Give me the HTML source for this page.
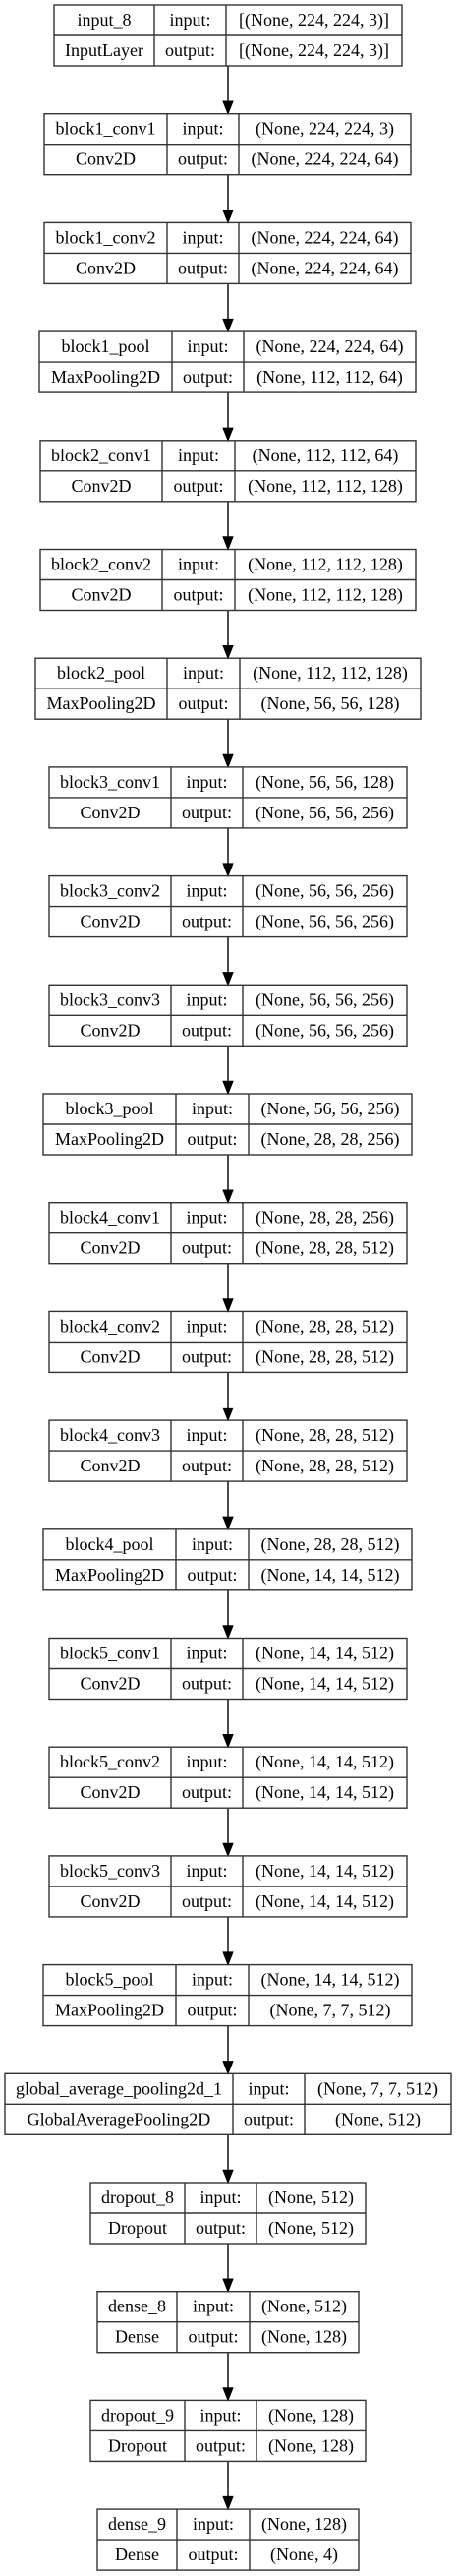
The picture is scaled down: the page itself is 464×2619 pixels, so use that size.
<!DOCTYPE html>
<html><head><meta charset="utf-8"><style>
html,body{margin:0;padding:0;background:#fff;}
svg{display:block;}
text{font-family:"Liberation Serif",serif;font-size:18px;fill:#000;text-anchor:middle;}
.b{fill:none;stroke:#333;stroke-width:1.4;}
.a{fill:#000;stroke:#000;stroke-width:1;}
</style></head><body>
<svg width="464" height="2619" viewBox="0 0 464 2619" xmlns="http://www.w3.org/2000/svg">
<g stroke="#000" stroke-width="1.4">
<line x1="232" y1="67" x2="232" y2="104"/><line x1="232" y1="177.7" x2="232" y2="214.7"/><line x1="232" y1="288.4" x2="232" y2="325.4"/><line x1="232" y1="399.1" x2="232" y2="436.1"/><line x1="232" y1="509.8" x2="232" y2="546.8"/><line x1="232" y1="620.5" x2="232" y2="657.5"/><line x1="232" y1="731.2" x2="232" y2="768.2"/><line x1="232" y1="841.9" x2="232" y2="878.9"/><line x1="232" y1="952.6" x2="232" y2="989.6"/><line x1="232" y1="1063.3" x2="232" y2="1100.3"/><line x1="232" y1="1174" x2="232" y2="1211"/><line x1="232" y1="1284.7" x2="232" y2="1321.7"/><line x1="232" y1="1395.4" x2="232" y2="1432.4"/><line x1="232" y1="1506.1" x2="232" y2="1543.1"/><line x1="232" y1="1616.8" x2="232" y2="1653.8"/><line x1="232" y1="1727.5" x2="232" y2="1764.5"/><line x1="232" y1="1838.2" x2="232" y2="1875.2"/><line x1="232" y1="1948.9" x2="232" y2="1985.9"/><line x1="232" y1="2059.6" x2="232" y2="2096.6"/><line x1="232" y1="2170.3" x2="232" y2="2207.3"/><line x1="232" y1="2281" x2="232" y2="2318"/><line x1="232" y1="2391.7" x2="232" y2="2428.7"/><line x1="232" y1="2502.4" x2="232" y2="2539.4"/>
</g>
<g class="a">
<polygon points="227,103 237,103 232,115.7"/><polygon points="227,213.7 237,213.7 232,226.4"/><polygon points="227,324.4 237,324.4 232,337.1"/><polygon points="227,435.1 237,435.1 232,447.8"/><polygon points="227,545.8 237,545.8 232,558.5"/><polygon points="227,656.5 237,656.5 232,669.2"/><polygon points="227,767.2 237,767.2 232,779.9"/><polygon points="227,877.9 237,877.9 232,890.6"/><polygon points="227,988.6 237,988.6 232,1001.3"/><polygon points="227,1099.3 237,1099.3 232,1112"/><polygon points="227,1210 237,1210 232,1222.7"/><polygon points="227,1320.7 237,1320.7 232,1333.4"/><polygon points="227,1431.4 237,1431.4 232,1444.1"/><polygon points="227,1542.1 237,1542.1 232,1554.8"/><polygon points="227,1652.8 237,1652.8 232,1665.5"/><polygon points="227,1763.5 237,1763.5 232,1776.2"/><polygon points="227,1874.2 237,1874.2 232,1886.9"/><polygon points="227,1984.9 237,1984.9 232,1997.6"/><polygon points="227,2095.6 237,2095.6 232,2108.3"/><polygon points="227,2206.3 237,2206.3 232,2219"/><polygon points="227,2317 237,2317 232,2329.7"/><polygon points="227,2427.7 237,2427.7 232,2440.4"/><polygon points="227,2538.4 237,2538.4 232,2551.1"/>
</g>

<g transform="translate(0,5)"><rect class="b" x="55" y="0" width="354" height="62"/><line class="b" x1="55" y1="31" x2="409" y2="31"/><line class="b" x1="157" y1="0" x2="157" y2="62"/><line class="b" x1="230" y1="0" x2="230" y2="62"/>
<text x="106" y="21">input_8</text><text x="106" y="52">InputLayer</text><text x="193.5" y="21">input:</text><text x="193.5" y="52">output:</text><text x="319.5" y="21">[(None, 224, 224, 3)]</text><text x="319.5" y="52">[(None, 224, 224, 3)]</text></g>

<g transform="translate(0,115.7)"><rect class="b" x="45" y="0" width="373" height="62"/><line class="b" x1="45" y1="31" x2="418" y2="31"/><line class="b" x1="170" y1="0" x2="170" y2="62"/><line class="b" x1="243" y1="0" x2="243" y2="62"/>
<text x="107.5" y="21">block1_conv1</text><text x="107.5" y="52">Conv2D</text><text x="206.5" y="21">input:</text><text x="206.5" y="52">output:</text><text x="330.5" y="21">(None, 224, 224, 3)</text><text x="330.5" y="52">(None, 224, 224, 64)</text></g>

<g transform="translate(0,226.4)"><rect class="b" x="45" y="0" width="373" height="62"/><line class="b" x1="45" y1="31" x2="418" y2="31"/><line class="b" x1="170" y1="0" x2="170" y2="62"/><line class="b" x1="243" y1="0" x2="243" y2="62"/>
<text x="107.5" y="21">block1_conv2</text><text x="107.5" y="52">Conv2D</text><text x="206.5" y="21">input:</text><text x="206.5" y="52">output:</text><text x="330.5" y="21">(None, 224, 224, 64)</text><text x="330.5" y="52">(None, 224, 224, 64)</text></g>

<g transform="translate(0,337.1)"><rect class="b" x="40" y="0" width="383" height="62"/><line class="b" x1="40" y1="31" x2="423" y2="31"/><line class="b" x1="175" y1="0" x2="175" y2="62"/><line class="b" x1="248" y1="0" x2="248" y2="62"/>
<text x="107.5" y="21">block1_pool</text><text x="107.5" y="52">MaxPooling2D</text><text x="211.5" y="21">input:</text><text x="211.5" y="52">output:</text><text x="335.5" y="21">(None, 224, 224, 64)</text><text x="335.5" y="52">(None, 112, 112, 64)</text></g>

<g transform="translate(0,447.8)"><rect class="b" x="41" y="0" width="382" height="62"/><line class="b" x1="41" y1="31" x2="423" y2="31"/><line class="b" x1="165" y1="0" x2="165" y2="62"/><line class="b" x1="239" y1="0" x2="239" y2="62"/>
<text x="103" y="21">block2_conv1</text><text x="103" y="52">Conv2D</text><text x="202" y="21">input:</text><text x="202" y="52">output:</text><text x="331" y="21">(None, 112, 112, 64)</text><text x="331" y="52">(None, 112, 112, 128)</text></g>

<g transform="translate(0,558.5)"><rect class="b" x="41" y="0" width="382" height="62"/><line class="b" x1="41" y1="31" x2="423" y2="31"/><line class="b" x1="165" y1="0" x2="165" y2="62"/><line class="b" x1="239" y1="0" x2="239" y2="62"/>
<text x="103" y="21">block2_conv2</text><text x="103" y="52">Conv2D</text><text x="202" y="21">input:</text><text x="202" y="52">output:</text><text x="331" y="21">(None, 112, 112, 128)</text><text x="331" y="52">(None, 112, 112, 128)</text></g>

<g transform="translate(0,669.2)"><rect class="b" x="36" y="0" width="392" height="62"/><line class="b" x1="36" y1="31" x2="428" y2="31"/><line class="b" x1="170" y1="0" x2="170" y2="62"/><line class="b" x1="244" y1="0" x2="244" y2="62"/>
<text x="103" y="21">block2_pool</text><text x="103" y="52">MaxPooling2D</text><text x="207" y="21">input:</text><text x="207" y="52">output:</text><text x="336" y="21">(None, 112, 112, 128)</text><text x="336" y="52">(None, 56, 56, 128)</text></g>

<g transform="translate(0,779.9)"><rect class="b" x="50" y="0" width="364" height="62"/><line class="b" x1="50" y1="31" x2="414" y2="31"/><line class="b" x1="174" y1="0" x2="174" y2="62"/><line class="b" x1="247" y1="0" x2="247" y2="62"/>
<text x="112" y="21">block3_conv1</text><text x="112" y="52">Conv2D</text><text x="210.5" y="21">input:</text><text x="210.5" y="52">output:</text><text x="330.5" y="21">(None, 56, 56, 128)</text><text x="330.5" y="52">(None, 56, 56, 256)</text></g>

<g transform="translate(0,890.6)"><rect class="b" x="50" y="0" width="364" height="62"/><line class="b" x1="50" y1="31" x2="414" y2="31"/><line class="b" x1="174" y1="0" x2="174" y2="62"/><line class="b" x1="247" y1="0" x2="247" y2="62"/>
<text x="112" y="21">block3_conv2</text><text x="112" y="52">Conv2D</text><text x="210.5" y="21">input:</text><text x="210.5" y="52">output:</text><text x="330.5" y="21">(None, 56, 56, 256)</text><text x="330.5" y="52">(None, 56, 56, 256)</text></g>

<g transform="translate(0,1001.3)"><rect class="b" x="50" y="0" width="364" height="62"/><line class="b" x1="50" y1="31" x2="414" y2="31"/><line class="b" x1="174" y1="0" x2="174" y2="62"/><line class="b" x1="247" y1="0" x2="247" y2="62"/>
<text x="112" y="21">block3_conv3</text><text x="112" y="52">Conv2D</text><text x="210.5" y="21">input:</text><text x="210.5" y="52">output:</text><text x="330.5" y="21">(None, 56, 56, 256)</text><text x="330.5" y="52">(None, 56, 56, 256)</text></g>

<g transform="translate(0,1112)"><rect class="b" x="44" y="0" width="375" height="62"/><line class="b" x1="44" y1="31" x2="419" y2="31"/><line class="b" x1="179" y1="0" x2="179" y2="62"/><line class="b" x1="253" y1="0" x2="253" y2="62"/>
<text x="111.5" y="21">block3_pool</text><text x="111.5" y="52">MaxPooling2D</text><text x="216" y="21">input:</text><text x="216" y="52">output:</text><text x="336" y="21">(None, 56, 56, 256)</text><text x="336" y="52">(None, 28, 28, 256)</text></g>

<g transform="translate(0,1222.7)"><rect class="b" x="50" y="0" width="364" height="62"/><line class="b" x1="50" y1="31" x2="414" y2="31"/><line class="b" x1="174" y1="0" x2="174" y2="62"/><line class="b" x1="247" y1="0" x2="247" y2="62"/>
<text x="112" y="21">block4_conv1</text><text x="112" y="52">Conv2D</text><text x="210.5" y="21">input:</text><text x="210.5" y="52">output:</text><text x="330.5" y="21">(None, 28, 28, 256)</text><text x="330.5" y="52">(None, 28, 28, 512)</text></g>

<g transform="translate(0,1333.4)"><rect class="b" x="50" y="0" width="364" height="62"/><line class="b" x1="50" y1="31" x2="414" y2="31"/><line class="b" x1="174" y1="0" x2="174" y2="62"/><line class="b" x1="247" y1="0" x2="247" y2="62"/>
<text x="112" y="21">block4_conv2</text><text x="112" y="52">Conv2D</text><text x="210.5" y="21">input:</text><text x="210.5" y="52">output:</text><text x="330.5" y="21">(None, 28, 28, 512)</text><text x="330.5" y="52">(None, 28, 28, 512)</text></g>

<g transform="translate(0,1444.1)"><rect class="b" x="50" y="0" width="364" height="62"/><line class="b" x1="50" y1="31" x2="414" y2="31"/><line class="b" x1="174" y1="0" x2="174" y2="62"/><line class="b" x1="247" y1="0" x2="247" y2="62"/>
<text x="112" y="21">block4_conv3</text><text x="112" y="52">Conv2D</text><text x="210.5" y="21">input:</text><text x="210.5" y="52">output:</text><text x="330.5" y="21">(None, 28, 28, 512)</text><text x="330.5" y="52">(None, 28, 28, 512)</text></g>

<g transform="translate(0,1554.8)"><rect class="b" x="44" y="0" width="375" height="62"/><line class="b" x1="44" y1="31" x2="419" y2="31"/><line class="b" x1="179" y1="0" x2="179" y2="62"/><line class="b" x1="253" y1="0" x2="253" y2="62"/>
<text x="111.5" y="21">block4_pool</text><text x="111.5" y="52">MaxPooling2D</text><text x="216" y="21">input:</text><text x="216" y="52">output:</text><text x="336" y="21">(None, 28, 28, 512)</text><text x="336" y="52">(None, 14, 14, 512)</text></g>

<g transform="translate(0,1665.5)"><rect class="b" x="50" y="0" width="364" height="62"/><line class="b" x1="50" y1="31" x2="414" y2="31"/><line class="b" x1="174" y1="0" x2="174" y2="62"/><line class="b" x1="247" y1="0" x2="247" y2="62"/>
<text x="112" y="21">block5_conv1</text><text x="112" y="52">Conv2D</text><text x="210.5" y="21">input:</text><text x="210.5" y="52">output:</text><text x="330.5" y="21">(None, 14, 14, 512)</text><text x="330.5" y="52">(None, 14, 14, 512)</text></g>

<g transform="translate(0,1776.2)"><rect class="b" x="50" y="0" width="364" height="62"/><line class="b" x1="50" y1="31" x2="414" y2="31"/><line class="b" x1="174" y1="0" x2="174" y2="62"/><line class="b" x1="247" y1="0" x2="247" y2="62"/>
<text x="112" y="21">block5_conv2</text><text x="112" y="52">Conv2D</text><text x="210.5" y="21">input:</text><text x="210.5" y="52">output:</text><text x="330.5" y="21">(None, 14, 14, 512)</text><text x="330.5" y="52">(None, 14, 14, 512)</text></g>

<g transform="translate(0,1886.9)"><rect class="b" x="50" y="0" width="364" height="62"/><line class="b" x1="50" y1="31" x2="414" y2="31"/><line class="b" x1="174" y1="0" x2="174" y2="62"/><line class="b" x1="247" y1="0" x2="247" y2="62"/>
<text x="112" y="21">block5_conv3</text><text x="112" y="52">Conv2D</text><text x="210.5" y="21">input:</text><text x="210.5" y="52">output:</text><text x="330.5" y="21">(None, 14, 14, 512)</text><text x="330.5" y="52">(None, 14, 14, 512)</text></g>

<g transform="translate(0,1997.6)"><rect class="b" x="44" y="0" width="375" height="62"/><line class="b" x1="44" y1="31" x2="419" y2="31"/><line class="b" x1="179" y1="0" x2="179" y2="62"/><line class="b" x1="253" y1="0" x2="253" y2="62"/>
<text x="111.5" y="21">block5_pool</text><text x="111.5" y="52">MaxPooling2D</text><text x="216" y="21">input:</text><text x="216" y="52">output:</text><text x="336" y="21">(None, 14, 14, 512)</text><text x="336" y="52">(None, 7, 7, 512)</text></g>

<g transform="translate(0,2108.3)"><rect class="b" x="5" y="0" width="454" height="62"/><line class="b" x1="5" y1="31" x2="459" y2="31"/><line class="b" x1="237" y1="0" x2="237" y2="62"/><line class="b" x1="310" y1="0" x2="310" y2="62"/>
<text x="121" y="21">global_average_pooling2d_1</text><text x="121" y="52">GlobalAveragePooling2D</text><text x="273.5" y="21">input:</text><text x="273.5" y="52">output:</text><text x="384.5" y="21">(None, 7, 7, 512)</text><text x="384.5" y="52">(None, 512)</text></g>

<g transform="translate(0,2219)"><rect class="b" x="92" y="0" width="280" height="62"/><line class="b" x1="92" y1="31" x2="372" y2="31"/><line class="b" x1="188" y1="0" x2="188" y2="62"/><line class="b" x1="261" y1="0" x2="261" y2="62"/>
<text x="140" y="21">dropout_8</text><text x="140" y="52">Dropout</text><text x="224.5" y="21">input:</text><text x="224.5" y="52">output:</text><text x="316.5" y="21">(None, 512)</text><text x="316.5" y="52">(None, 512)</text></g>

<g transform="translate(0,2329.7)"><rect class="b" x="99" y="0" width="266" height="62"/><line class="b" x1="99" y1="31" x2="365" y2="31"/><line class="b" x1="180" y1="0" x2="180" y2="62"/><line class="b" x1="254" y1="0" x2="254" y2="62"/>
<text x="139.5" y="21">dense_8</text><text x="139.5" y="52">Dense</text><text x="217" y="21">input:</text><text x="217" y="52">output:</text><text x="309.5" y="21">(None, 512)</text><text x="309.5" y="52">(None, 128)</text></g>

<g transform="translate(0,2440.4)"><rect class="b" x="92" y="0" width="280" height="62"/><line class="b" x1="92" y1="31" x2="372" y2="31"/><line class="b" x1="188" y1="0" x2="188" y2="62"/><line class="b" x1="261" y1="0" x2="261" y2="62"/>
<text x="140" y="21">dropout_9</text><text x="140" y="52">Dropout</text><text x="224.5" y="21">input:</text><text x="224.5" y="52">output:</text><text x="316.5" y="21">(None, 128)</text><text x="316.5" y="52">(None, 128)</text></g>

<g transform="translate(0,2551.1)"><rect class="b" x="99" y="0" width="266" height="62"/><line class="b" x1="99" y1="31" x2="365" y2="31"/><line class="b" x1="180" y1="0" x2="180" y2="62"/><line class="b" x1="254" y1="0" x2="254" y2="62"/>
<text x="139.5" y="21">dense_9</text><text x="139.5" y="52">Dense</text><text x="217" y="21">input:</text><text x="217" y="52">output:</text><text x="309.5" y="21">(None, 128)</text><text x="309.5" y="52">(None, 4)</text></g>
</svg>
</body></html>
